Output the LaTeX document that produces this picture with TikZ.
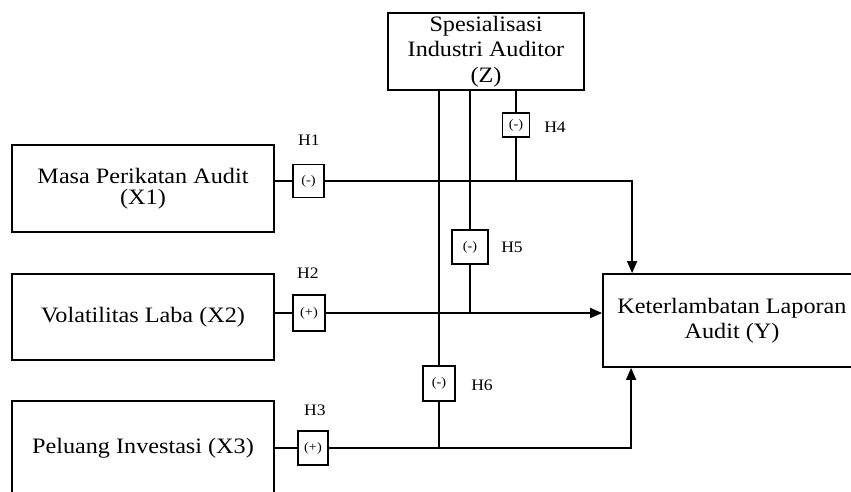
\documentclass[tikz,border=0pt]{standalone}
\usepackage{fontspec}
\setmainfont{Liberation Serif}
\newfontfamily\tms[FakeStretch=1.1]{Liberation Serif}
\usetikzlibrary{arrows.meta,calc}
\begin{document}
\begin{tikzpicture}[x=1pt,y=-1pt,
  box/.style={draw, line width=1.8pt, inner sep=0pt, align=center},
  bigfont/.style={font=\tms\fontsize{22}{25}\selectfont},
  sbox/.style={draw, line width=1.6pt, inner sep=0pt, fill=white, font=\tms\fontsize{13}{14}\selectfont},
  hlab/.style={font=\tms\fontsize{16}{18}\selectfont},
  conn/.style={line width=1.7pt},
  arr/.style={conn, -{Triangle[length=12pt,width=10pt]}}]
\useasboundingbox (0,0) rectangle (851,491);
\clip (0,0) rectangle (851,491);

% main boxes
\node[box, minimum width=262pt, minimum height=87pt, font=\tms\fontsize{22}{21}\selectfont] (X1) at (143,188.5) {Masa Perikatan Audit\\(X1)};
\node[box, bigfont, minimum width=262pt, minimum height=86pt] (X2) at (143,317) {Volatilitas Laba (X2)};
\node[box, bigfont, minimum width=262pt, minimum height=94pt] (X3) at (143,448) {Peluang Investasi (X3)};
\node[box, bigfont, minimum width=258pt, minimum height=93pt] (Y) at (732,320.5) {Keterlambatan Laporan\\Audit (Y)};
\node[box, minimum width=196pt, minimum height=77pt, font=\tms\fontsize{22}{25.5}\selectfont] (Z) at (486,51.5) {Spesialisasi\\Industri Auditor\\(Z)};

% small sign boxes
\node[sbox, minimum width=31pt, minimum height=33pt] (H1b) at (308.5,181) {(-)};
\node[sbox, minimum width=32pt, minimum height=36pt] (H2b) at (309,313) {(+)};
\node[sbox, minimum width=30pt, minimum height=34pt] (H3b) at (313,448) {(+)};
\node[sbox, minimum width=27pt, minimum height=24pt] (H4b) at (516,125) {(-)};
\node[sbox, minimum width=36pt, minimum height=34pt] (H5b) at (470,247) {(-)};
\node[sbox, minimum width=32pt, minimum height=35pt] (H6b) at (439,383.5) {(-)};

% labels
\node[hlab] (L1) at (309,140) {H1};
\node[hlab] (L2) at (308,273) {H2};
\node[hlab] (L3) at (315,410) {H3};
\node[hlab] (L4) at (555,127) {H4};
\node[hlab] (L5) at (512,247) {H5};
\node[hlab] (L6) at (482,385) {H6};

% direct paths
\draw[conn] (X1.east |- H1b) -- (H1b.west);
\draw[arr] (H1b.east) -| ($(Y.north west)+(30,0)$);
\draw[conn] (X2.east |- H2b) -- (H2b.west);
\draw[arr] (H2b.east) -- (H2b.east -| Y.west);
\draw[conn] (X3.east |- H3b) -- (H3b.west);
\draw[arr] (H3b.east) -| ($(Y.south west)+(29,0)$);

% moderating paths
\draw[conn] (H4b.north |- Z.south) -- (H4b.north);
\draw[conn] (H4b.south) -- (H4b.south |- H1b);
\draw[conn] (H5b.north |- Z.south) -- (H5b.north);
\draw[conn] (H5b.south) -- (H5b.south |- H2b);
\draw[conn] (H6b.north |- Z.south) -- (H6b.north);
\draw[conn] (H6b.south) -- (H6b.south |- H3b);
\end{tikzpicture}
\end{document}
